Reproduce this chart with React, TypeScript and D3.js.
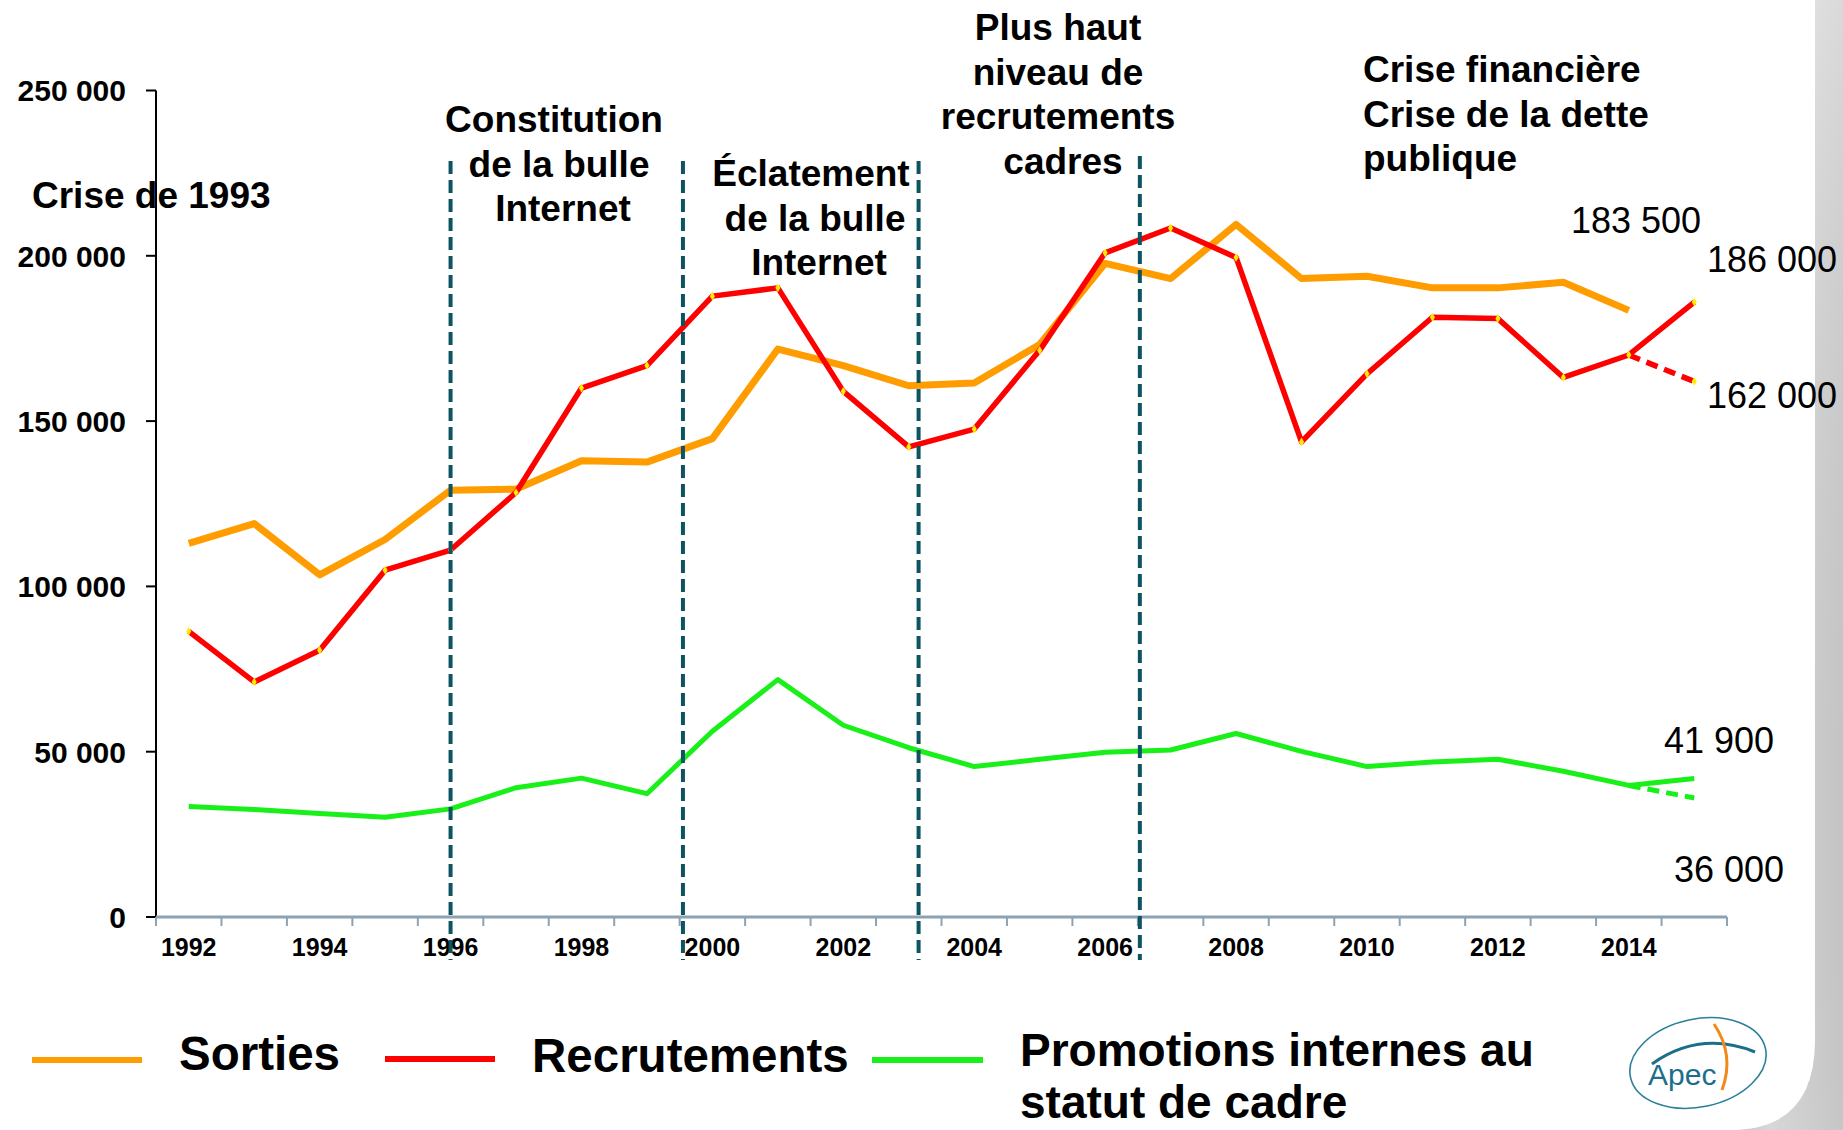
import React from "react";
import * as d3 from "d3";

const years = d3.range(1992, 2016);
const sorties: (number | null)[] = [113000, 119000, 103500, 114200, 129100, 129400, 138000, 137600, 144700, 171800, 166800, 160700, 161500, 173200, 197700, 193100, 209500, 193100, 193800, 190300, 190300, 192000, 183500, null];
const recrutements: number[] = [86400, 71100, 80700, 104900, 111000, 128400, 160000, 166800, 187800, 190300, 159000, 142200, 147600, 171400, 200900, 208400, 199500, 143700, 164300, 181400, 181000, 163200, 170000, 186000];
const promotions: number[] = [33400, 32500, 31300, 30200, 32700, 39100, 42000, 37300, 56200, 71800, 58000, 51200, 45500, 47700, 49800, 50500, 55500, 50100, 45500, 46900, 47700, 44100, 39800, 41900];
const recrutAlt: [number, number][] = [[2014, 170000], [2015, 162000]];
const promoAlt: [number, number][] = [[2014, 39800], [2015, 36000]];
const yTicks = [0, 50000, 100000, 150000, 200000, 250000];
const xLabelYears = d3.range(1992, 2015, 2);
const eventYears = [1996, 1999.55, 2003.15, 2006.53];

const valueLabels = [
  { text: "183 500", x: 1571, y: 220 },
  { text: "186 000", x: 1707, y: 259 },
  { text: "162 000", x: 1707, y: 395 },
  { text: "41 900", x: 1664, y: 740 },
  { text: "36 000", x: 1674, y: 869 },
];

const annotations = [
  { lines: ["Crise de 1993"], offs: [0], x: 32, y: 195, anchor: "start" },
  { lines: ["Constitution", "de la bulle", "Internet"], offs: [0, 5, 9], x: 554, y: 119, anchor: "middle" },
  { lines: ["Éclatement", "de la bulle", "Internet"], offs: [0, 4, 8], x: 811, y: 173, anchor: "middle" },
  { lines: ["Plus haut", "niveau de", "recrutements", "cadres"], offs: [0, 0, 0, 5], x: 1058, y: 27, anchor: "middle" },
  { lines: ["Crise financière", "Crise de la dette", "publique"], offs: [0, 0, 0], x: 1363, y: 69, anchor: "start" },
];

const W = 1843, H = 1130;
const X0 = 156, X1 = 1727, Y0 = 917, Y1 = 90.5;

const fmt = (v: number) => d3.format(",")(v).replace(/,/g, " ");

export default function App() {
  const x = d3.scaleLinear().domain([1991.5, 2015.5]).range([X0, X1]);
  const y = d3.scaleLinear().domain([0, 250000]).range([Y0, Y1]);
  const line = d3
    .line<[number, number | null]>()
    .defined((d) => d[1] != null)
    .x((d) => x(d[0]))
    .y((d) => y(d[1] as number));

  const sortiesPts = years.map((yr, i) => [yr, sorties[i]] as [number, number | null]);
  const recPts = years.map((yr, i) => [yr, recrutements[i]] as [number, number | null]);
  const proPts = years.map((yr, i) => [yr, promotions[i]] as [number, number | null]);
  const boundaries = d3.range(1991.5, 2016, 1);
  const font = "'Liberation Sans', Arial, sans-serif";
  const diamond = d3.symbol().type(d3.symbolDiamond).size(22)();

  return (
    <svg width={W} height={H} style={{ position: "absolute", left: 0, top: 0, fontFamily: font }}>
      <defs>
        <linearGradient id="bg" x1="0" x2="1" y1="0" y2="0">
          <stop offset="0" stopColor="#bdbdbd" />
          <stop offset="0.5" stopColor="#e2e2e2" />
          <stop offset="1" stopColor="#d0d0d0" />
        </linearGradient>
        <linearGradient id="bg2" x1="0" x2="0" y1="0" y2="1">
          <stop offset="0" stopColor="#ffffff" stopOpacity="0.2" />
          <stop offset="1" stopColor="#000000" stopOpacity="0.05" />
        </linearGradient>
      </defs>
      <rect x={1700} y={0} width={W - 1700} height={H} fill="url(#bg)" />
      <rect x={1700} y={0} width={W - 1700} height={H} fill="url(#bg2)" />
      <path d={`M0,0 H1815 V1040 Q1815,1130 1730,1130 H0 Z`} fill="#ffffff" />

      {/* Y axis */}
      <line x1={X0} x2={X0} y1={Y1} y2={Y0} stroke="#000" strokeWidth={2} />
      {yTicks.map((t) => (
        <g key={t}>
          <line x1={X0 - 10} x2={X0} y1={y(t)} y2={y(t)} stroke="#000" strokeWidth={2} />
          <text x={126} y={y(t)} dy="0.36em" textAnchor="end" fontSize={30} fontWeight="bold">
            {fmt(t)}
          </text>
        </g>
      ))}

      {/* X axis */}
      <line x1={X0} x2={X1} y1={Y0} y2={Y0} stroke="#8da2b2" strokeWidth={3} />
      {boundaries.map((b) => (
        <line key={b} x1={x(b)} x2={x(b)} y1={Y0} y2={Y0 + 9} stroke="#8da2b2" strokeWidth={2} />
      ))}
      {xLabelYears.map((yr) => (
        <text key={yr} x={x(yr)} y={947} dy="0.36em" textAnchor="middle" fontSize={25} fontWeight="bold">
          {yr}
        </text>
      ))}

      {/* Series */}
      <path d={line(sortiesPts) || ""} fill="none" stroke="#ff9c00" strokeWidth={7} strokeLinejoin="round" />
      <path d={line(proPts) || ""} fill="none" stroke="#19f019" strokeWidth={5} strokeLinejoin="round" />
      <path d={line(promoAlt) || ""} fill="none" stroke="#19f019" strokeWidth={5} strokeDasharray="12 7" />
      <path d={line(recPts) || ""} fill="none" stroke="#ff0000" strokeWidth={5.5} strokeLinejoin="round" />
      <path d={line(recrutAlt) || ""} fill="none" stroke="#ff0000" strokeWidth={5.5} strokeDasharray="12 7" />
      {recPts.concat([recrutAlt[1] as [number, number]]).map((d, i) => (
        <path key={i} d={diamond || ""} transform={`translate(${x(d[0])},${y(d[1] as number)})`} fill="#ffee00" />
      ))}

      {/* Event lines */}
      {eventYears.map((ev, i) => (
        <line
          key={ev}
          x1={x(ev)}
          x2={x(ev)}
          y1={i === 3 ? 156 : 161}
          y2={960}
          stroke="#0d5361"
          strokeWidth={4}
          strokeDasharray="13 6"
        />
      ))}

      {/* Annotations */}
      {annotations.map((a, i) => (
        <text key={i} x={a.x} textAnchor={a.anchor as any} fontSize={37} fontWeight="bold">
          {a.lines.map((l, j) => (
            <tspan key={j} x={a.x + a.offs[j]} y={a.y + j * 44.5} dy="0.36em">
              {l}
            </tspan>
          ))}
        </text>
      ))}

      {valueLabels.map((v) => (
        <text key={v.text} x={v.x} y={v.y} dy="0.36em" fontSize={36}>
          {v.text}
        </text>
      ))}

      {/* Legend */}
      <line x1={32} x2={142} y1={1060} y2={1060} stroke="#ff9c00" strokeWidth={6} />
      <text x={179} y={1053} dy="0.36em" fontSize={47.5} fontWeight="bold">Sorties</text>
      <line x1={385} x2={495} y1={1059} y2={1059} stroke="#ff0000" strokeWidth={6} />
      <text x={532} y={1055} dy="0.36em" fontSize={47.5} fontWeight="bold">Recrutements</text>
      <line x1={872} x2={983} y1={1060} y2={1060} stroke="#19f019" strokeWidth={6} />
      <text x={1020} y={1049} dy="0.36em" fontSize={46} fontWeight="bold">Promotions internes au</text>
      <text x={1020} y={1101} dy="0.36em" fontSize={46} fontWeight="bold">statut de cadre</text>

      {/* Logo */}
      <g>
        <ellipse cx={1698} cy={1063} rx={69} ry={44} transform="rotate(-12 1698 1063)" fill="none" stroke="#2a7f99" strokeWidth={1.6} />
        <path d="M1652,1064 Q1700,1030 1755,1052" fill="none" stroke="#1c6f8a" strokeWidth={3} />
        <path d="M1714,1024 Q1735,1055 1722,1090" fill="none" stroke="#f08a1c" strokeWidth={3} />
        <text x={1648} y={1085} fontSize={30} fill="#1c6f8a" fontFamily={font}>Apec</text>
      </g>
    </svg>
  );
}
